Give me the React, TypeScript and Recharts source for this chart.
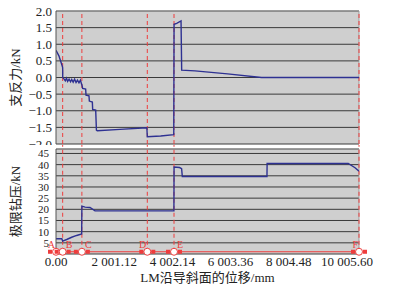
import {
    CartesianGrid,
    ComposedChart,
    Line,
    LineChart,
    ReferenceDot,
    ReferenceLine,
    XAxis,
    YAxis,
} from 'recharts';

// displacement along the incline (mm) and support reaction (kN)
const reactX = [
    0, 100, 195, 229, 232, 280, 320, 360, 400, 450, 500, 540, 590, 640, 690,
    740, 790, 840, 880, 890, 917, 1020, 1032, 1135, 1146, 1250, 1261, 1365,
    1390, 1420, 2200, 3125, 3140, 3600, 4050, 4060, 4150, 4300, 4322, 4780,
    5900, 7070, 10420,
];
const reactY = [
    0.82, 0.65, 0.4, 0.3, 0.0, -0.05, -0.1, -0.02, -0.12, -0.05, -0.13, -0.06,
    -0.14, -0.05, -0.15, -0.08, -0.16, -0.08, -0.2, -0.22, -0.33, -0.35, -0.53,
    -0.55, -0.71, -0.74, -0.96, -0.98, -1.58, -1.6, -1.56, -1.51, -1.78, -1.76,
    -1.72, 1.6, 1.63, 1.7, 0.22, 0.2, 0.11, 0.0, 0.0,
];

// limit weight on bit (kN)
const wobX = [
    0, 200, 229, 367, 539, 711, 883, 890, 1000, 1169, 1341, 4055, 4060, 4250,
    4320, 4344, 7255, 7260, 10050, 10283, 10420,
];
const wobY = [
    6.8, 6.8, 5.8, 6.5, 7.5, 8.3, 9.0, 21.4, 21.0, 20.8, 19.3, 19.3, 38.9, 38.7,
    38.2, 34.7, 34.7, 40.5, 40.5, 38.6, 37.1,
];

const xTicks = [0, 2001.12, 4002.24, 6003.36, 8004.48, 10005.6];
const xTickLabels = ['0.00', '2 001.12', '4 002.14', '6 003.36', '8 004.48', '10 005.60'];
const reactTicks = [-2, -1.5, -1, -0.5, 0, 0.5, 1, 1.5, 2];
const wobTicks = [5, 10, 15, 20, 25, 30, 35, 40, 45];

const markerNames = ['A', 'B', 'C', 'D', 'E', 'F'];
const markerX = [0, 229, 890, 3140, 4058, 10420];
const stageX = [229, 890, 3140, 4058, 10420];
const leftLabels = ['A', 'D', 'F'];

const xMax = 10420;
const serif = "'Liberation Serif', 'Times New Roman', 'Noto Sans CJK SC', serif";
const red = '#ee3d3d';
const navy = '#2e3192';
const plotFill = '#cfcfcf';

const reactData = reactX.map((x, i) => ({ x, y: reactY[i] }));
const wobData = wobX.map((x, i) => ({ x, y: wobY[i] }));

const fmtForce = (v: number) => (v < 0 ? '\u2212' + Math.abs(v).toFixed(1) : v.toFixed(1));

function YTick({ x, y, payload, fmt, size }: any) {
    return (
        <text
            x={x}
            y={y}
            textAnchor="end"
            dominantBaseline="central"
            style={{ fontFamily: serif, fontSize: size }}
            fill="#222"
        >
            {fmt ? fmt(payload.value) : payload.value}
        </text>
    );
}

function XTick({ x, y, payload }: any) {
    return (
        <text
            x={x}
            y={y + 7}
            textAnchor="middle"
            dominantBaseline="central"
            style={{ fontFamily: serif, fontSize: 13 }}
            fill="#222"
        >
            {xTickLabels[xTicks.indexOf(payload.value)] ?? ''}
        </text>
    );
}

function AxisTitle({ viewBox, text }: any) {
    const cy = viewBox.y + viewBox.height / 2;
    return (
        <text
            x={15}
            y={cy}
            transform={`rotate(-90, 15, ${cy})`}
            textAnchor="middle"
            dominantBaseline="central"
            style={{ fontFamily: serif, fontSize: 13 }}
            fill="#222"
        >
            {text}
        </text>
    );
}

function XTitle({ viewBox }: any) {
    return (
        <text
            x={viewBox.x + viewBox.width / 2}
            y={viewBox.y + 23}
            textAnchor="middle"
            dominantBaseline="central"
            style={{ fontFamily: serif, fontSize: 13 }}
            fill="#222"
        >
            LM沿导斜面的位移/mm
        </text>
    );
}

function Marker({ cx, cy, name }: any) {
    const left = leftLabels.includes(name);
    return (
        <g>
            <rect x={cx - 8} y={cy - 2} width={4} height={4} fill={red} />
            <rect x={cx + 4} y={cy - 2} width={4} height={4} fill={red} />
            <circle cx={cx} cy={cy} r={3.5} fill="#fff" stroke={red} strokeWidth={1} />
            <text
                x={left ? cx - 1 : cx + 3}
                y={cy - 3.5}
                textAnchor={left ? 'end' : 'start'}
                style={{ fontFamily: serif, fontSize: 10 }}
                fill={red}
            >
                {name}
            </text>
        </g>
    );
}

export default function App() {
    return (
        <div
            style={{
                position: 'absolute',
                left: 0,
                top: 0,
                width: 395,
                height: 289,
                background: '#fff',
                fontFamily: serif,
            }}
        >
            <div style={{ position: 'absolute', left: 0, top: 0 }}>
                <LineChart
                    width={395}
                    height={150}
                    data={reactData}
                    margin={{ top: 11, right: 36, bottom: 6, left: 0 }}
                >
                    <CartesianGrid fill={plotFill} stroke="#3a3a3a" vertical={false} />
                    <XAxis dataKey="x" type="number" domain={[0, xMax]} allowDataOverflow hide />
                    <YAxis
                        width={56}
                        domain={[-2, 2]}
                        ticks={reactTicks}
                        interval={0}
                        tick={<YTick fmt={fmtForce} size={13} />}
                        tickLine={false}
                        tickSize={0}
                        tickMargin={4}
                        axisLine={{ stroke: '#555' }}
                        label={<AxisTitle text="支反力/kN" />}
                    />
                    <ReferenceLine y={2} stroke="#9a9a9a" />
                    <ReferenceLine x={xMax} stroke="#9a9a9a" />
                    {stageX.map((x) => (
                        <ReferenceLine key={x} x={x} stroke={red} strokeDasharray="4 3" />
                    ))}
                    <Line
                        dataKey="y"
                        stroke={navy}
                        strokeWidth={1.4}
                        dot={false}
                        isAnimationActive={false}
                    />
                </LineChart>
            </div>
            <div style={{ position: 'absolute', left: 0, top: 145, background: '#fff' }}>
                <ComposedChart
                    width={395}
                    height={144}
                    data={wobData}
                    margin={{ top: 4, right: 36, bottom: 0, left: 0 }}
                >
                    <CartesianGrid fill={plotFill} stroke="#3a3a3a" vertical={false} />
                    <XAxis
                        dataKey="x"
                        type="number"
                        domain={[0, xMax]}
                        allowDataOverflow
                        ticks={xTicks}
                        tick={<XTick />}
                        tickLine={false}
                        tickSize={0}
                        tickMargin={0}
                        height={35}
                        axisLine={false}
                        interval={0}
                        label={<XTitle />}
                    />
                    <YAxis
                        width={56}
                        domain={[0, 47]}
                        ticks={wobTicks}
                        interval={0}
                        tick={<YTick size={11} />}
                        tickLine={false}
                        tickSize={0}
                        tickMargin={7}
                        axisLine={{ stroke: '#555' }}
                        label={<AxisTitle text="极限钻压/kN" />}
                    />
                    <ReferenceLine y={47} stroke="#9a9a9a" />
                    <ReferenceLine x={xMax} stroke="#9a9a9a" />
                    {stageX.map((x) => (
                        <ReferenceLine
                            key={x}
                            stroke={red}
                            strokeDasharray="4 3"
                            ifOverflow="visible"
                            segment={[
                                { x, y: 1 },
                                { x, y: 49 },
                            ]}
                        />
                    ))}
                    <Line
                        dataKey="y"
                        stroke={navy}
                        strokeWidth={1.4}
                        dot={false}
                        isAnimationActive={false}
                    />
                    <ReferenceLine y={1} stroke={red} strokeWidth={1.2} />
                    {markerX.map((x, i) => (
                        <ReferenceDot
                            key={markerNames[i]}
                            x={x}
                            y={1}
                            ifOverflow="visible"
                            shape={(p: any) => <Marker {...p} name={markerNames[i]} />}
                        />
                    ))}
                </ComposedChart>
            </div>
        </div>
    );
}
